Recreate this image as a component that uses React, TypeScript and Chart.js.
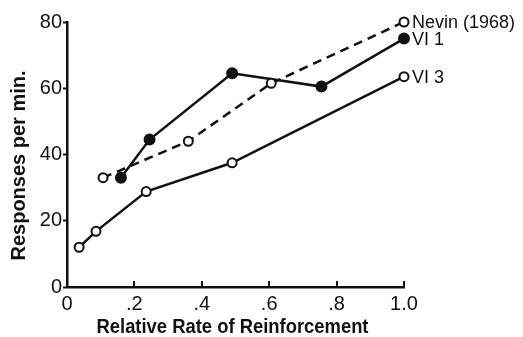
import React, { useEffect, useRef } from "react";
import { Chart, registerables } from "chart.js";

Chart.register(...registerables);

// Relative rate of reinforcement (x) vs. responses per minute (y)
const nevinX = [0.107, 0.36, 0.606, 1.0];
const nevinY = [33, 44, 61.5, 80];
const vi1X = [0.16, 0.245, 0.49, 0.755, 1.0];
const vi1Y = [33, 44.5, 64.5, 60.5, 75];
const vi3X = [0.036, 0.086, 0.235, 0.49, 1.0];
const vi3Y = [12, 16.8, 28.8, 37.5, 63.5];

const seriesLabels = ["Nevin (1968)", "VI 1", "VI 3"];
const xTickLabels = ["0", ".2", ".4", ".6", ".8", "1.0"];
const yTicks = [0, 20, 40, 60, 80];
const xTitle = "Relative Rate of Reinforcement";
const yTitle = "Responses per min.";

const INK = "#111";
const TICK_FONT = "'Liberation Sans', Arial, sans-serif";

const toPoints = (xs: number[], ys: number[]) => xs.map((x, i) => ({ x, y: ys[i] }));

// Upward tick marks on the x axis, condensed bold axis titles,
// and the series names beside each series' last point
const decorations = {
  id: "decorations",
  afterDatasetsDraw(chart: any) {
    const { ctx, chartArea, scales } = chart;
    const xs = scales.x;
    ctx.save();
    ctx.strokeStyle = INK;
    ctx.lineWidth = 2;
    xs.ticks.forEach((t: any) => {
      if (t.value === 0) return;
      const px = Math.round(xs.getPixelForValue(t.value));
      ctx.beginPath();
      ctx.moveTo(px, chartArea.bottom);
      ctx.lineTo(px, chartArea.bottom - 6);
      ctx.stroke();
    });

    ctx.fillStyle = INK;
    ctx.font = `18px ${TICK_FONT}`;
    ctx.textBaseline = "middle";
    ctx.textAlign = "left";
    chart.data.datasets.forEach((ds: any, i: number) => {
      const meta = chart.getDatasetMeta(i);
      const last = meta.data[meta.data.length - 1];
      ctx.fillText(ds.label, last.x + 8, last.y + 1);
    });

    // axis titles
    ctx.font = `bold 21px ${TICK_FONT}`;
    ctx.textAlign = "center";
    ctx.textBaseline = "alphabetic";
    const cx = (chartArea.left + chartArea.right) / 2;
    ctx.fillText(xTitle, cx - 3, chartArea.bottom + 46, 272);

    ctx.translate(chartArea.left - 42, (chartArea.top + chartArea.bottom) / 2 + 11);
    ctx.rotate(-Math.PI / 2);
    ctx.fillText(yTitle, 0, 0, 190);
    ctx.restore();
  },
};

export default function App() {
  const ref = useRef<HTMLCanvasElement | null>(null);

  useEffect(() => {
    if (!ref.current) return;
    const lineBase = {
      borderColor: INK,
      borderWidth: 2.5,
      pointBorderColor: INK,
      pointBorderWidth: 2,
      tension: 0,
      clip: false as any,
    };
    const chart = new Chart(ref.current, {
      type: "scatter",
      data: {
        datasets: [
          {
            ...lineBase,
            label: seriesLabels[0],
            data: toPoints(nevinX, nevinY),
            showLine: true,
            borderDash: [9, 6],
            pointRadius: 4.5,
            pointBackgroundColor: "#fff",
          },
          {
            ...lineBase,
            label: seriesLabels[1],
            data: toPoints(vi1X, vi1Y),
            showLine: true,
            pointRadius: 5,
            pointBackgroundColor: INK,
          },
          {
            ...lineBase,
            label: seriesLabels[2],
            data: toPoints(vi3X, vi3Y),
            showLine: true,
            pointRadius: 4.5,
            pointBackgroundColor: "#fff",
          },
        ],
      },
      options: {
        responsive: false,
        animation: false,
        layout: { padding: { top: 22, right: 119, left: 0, bottom: 0 } },
        plugins: { legend: { display: false }, tooltip: { enabled: false } },
        scales: {
          x: {
            type: "linear",
            min: 0,
            max: 1,
            afterBuildTicks: (scale: any) => {
              scale.ticks = xTickLabels.map((_, i) => ({ value: i * 0.2 }));
            },
            ticks: {
              color: INK,
              padding: 5,
              font: { family: TICK_FONT, size: 20 },
              callback: (_v: any, i: number) => xTickLabels[i],
            },
            grid: { display: true, drawOnChartArea: false, drawTicks: false, color: INK },
            border: { color: INK, width: 2.5 },
            title: { display: false },
            afterFit: (scale: any) => {
              scale.height = 50;
            },
          },
          y: {
            type: "linear",
            min: 0,
            max: 80,
            afterBuildTicks: (scale: any) => {
              scale.ticks = yTicks.map((v) => ({ value: v }));
            },
            ticks: {
              color: INK,
              padding: 1,
              font: { family: TICK_FONT, size: 20 },
            },
            grid: { display: true, drawOnChartArea: false, drawTicks: true, tickLength: 4, tickWidth: 2, color: INK },
            border: { color: INK, width: 2.5 },
            title: { display: false },
            afterFit: (scale: any) => {
              scale.width = 67;
            },
          },
        },
      },
      plugins: [decorations],
    });
    return () => chart.destroy();
  }, []);

  return (
    <div style={{ position: "fixed", left: 0, top: 0, width: 523, height: 337, background: "#fff" }}>
      <canvas ref={ref} width={523} height={337} />
    </div>
  );
}
